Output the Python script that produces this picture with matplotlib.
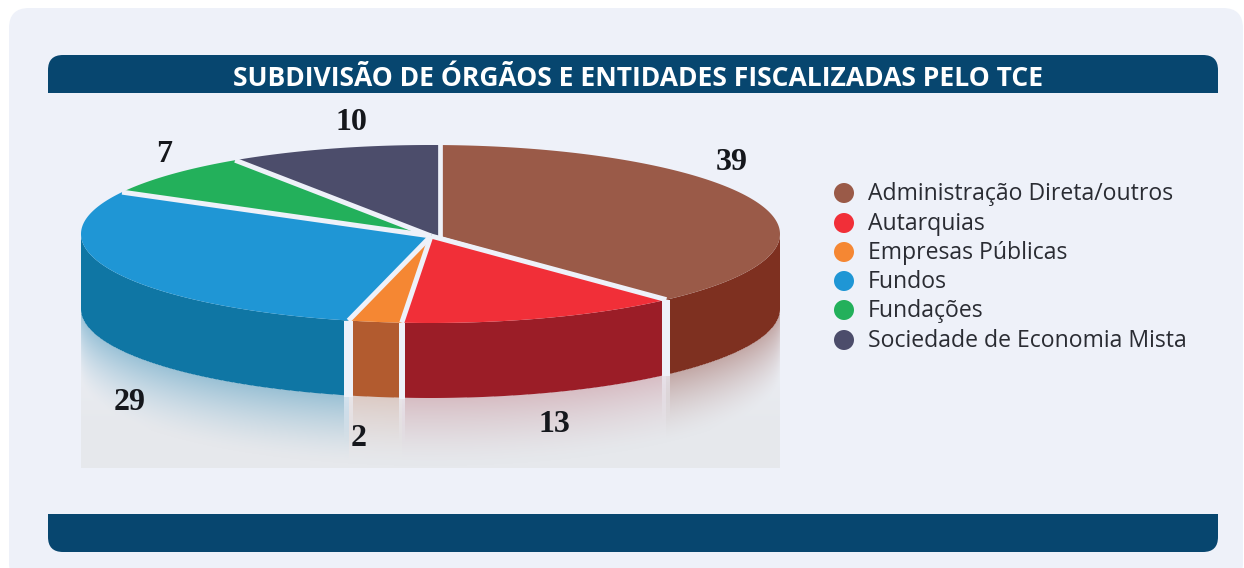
import numpy as np
import matplotlib
matplotlib.use('Agg')
import matplotlib.pyplot as plt
from matplotlib.colors import to_rgb
from matplotlib.patches import FancyBboxPatch, Polygon, Rectangle, Circle

title = 'SUBDIVISÃO DE ÓRGÃOS E ENTIDADES FISCALIZADAS PELO TCE'
categories = ['Administração Direta/outros', 'Autarquias', 'Empresas Públicas',
              'Fundos', 'Fundações', 'Sociedade de Economia Mista']
values = [39, 13, 2, 29, 7, 10]
top_colors = ['#9A5A48', '#F12F38', '#F58733', '#1F96D5', '#23B05B', '#4C4D6B']
wall_colors = ['#7E3020', '#9B1D27', '#B25B2F', '#0F76A4', '#0F76A4', '#4C4D6B']
label_pos = [(732, 163), (554, 424), (359, 438), (130, 403), (164, 155), (351, 123)]
legend_y = [193, 223, 252, 281, 310, 340]

bg = '#EEF1F9'
navy = '#07466F'
cx, cy, rx, ry, depth = 430.5, 234, 349.5, 89, 75
apex = (431, 236)
# the artwork is hand drawn, its spokes sit a little off the true angles (degrees)
nudge = [0, 0.8, 0, -1.6, 1.2, -0.9, 0]
gap_w = {1: 8, 2: 6, 3: 9}

fig = plt.figure(figsize=(12.44, 5.68), dpi=100)
ax = fig.add_axes([0, 0, 1, 1])
ax.set_xlim(0, 1244)
ax.set_ylim(568, 0)
ax.axis('off')


def rim_angle(frac, extra=0):
    # small warp, the drawing has some perspective
    return np.radians(90 - 360 * frac + 0.5 - 2 * np.cos(2 * np.pi * frac) + extra)


def rim(t):
    return cx + rx * np.cos(t), cy - ry * np.sin(t)


def rounded(x, y, w, h, r, color, z=1):
    ax.add_patch(FancyBboxPatch((x + r, y + r), w - 2 * r, h - 2 * r,
                                boxstyle=f'round,pad={r},rounding_size={r}',
                                fc=color, ec='none', zorder=z))


# panel and bars
rounded(9, 8, 1234, 575, 20, bg)
rounded(48, 55, 1170, 60, 15, navy, 2)
ax.add_patch(Rectangle((48, 75), 1170, 18, fc=navy, ec='none', zorder=2))
ax.add_patch(Rectangle((48, 93), 1170, 25, fc=bg, ec='none', zorder=2))
rounded(48, 490, 1170, 62, 15, navy, 2)
ax.add_patch(Rectangle((48, 514), 1170, 18, fc=navy, ec='none', zorder=2))
ax.add_patch(Rectangle((48, 485), 1170, 29, fc=bg, ec='none', zorder=2))
ax.text(638, 79, title, color='white', ha='center', va='center', fontsize=19.1,
        fontweight='bold', family='Open Sans', zorder=3)

# floor gradient and coloured reflection
fracs = np.concatenate([[0], np.cumsum(values) / np.sum(values)])
angles = [rim_angle(f, n) for f, n in zip(fracs, nudge)]
xs, ys = np.meshgrid(np.arange(81, 780) + 0.5, np.arange(280, 468) + 0.5)
bg_rgb = np.array(to_rgb(bg))
floor = np.array(to_rgb('#E6E8EC'))
mix = np.clip((ys - 300) / 130, 0, 1)[..., None]
img = bg_rgb * (1 - mix) + floor * mix

under = cy + depth + ry * np.sqrt(np.clip(1 - ((xs - cx) / rx) ** 2, 0, 1))
dist = ys - under
fade = np.clip(1 - dist / 68, 0, 1) ** 1.5
refl = np.zeros_like(img)
refl[:] = to_rgb(wall_colors[3])
strength = np.full(xs.shape, 0.36)
for i in [0, 1, 2]:
    right = rim(angles[i])[0] if i else 780
    left = rim(angles[i + 1])[0]
    mask = (xs <= right) & (xs > left)
    refl[mask] = to_rgb(wall_colors[i])
    strength[mask] = 0.36 if i == 0 else 0.22
alpha = (strength * fade * (dist >= 0))[..., None]
img = img * (1 - alpha) + refl * alpha
# light strips continue below the gaps
for i in [1, 2, 3]:
    xg = rim(angles[i])[0]
    mask = np.abs(xs - xg) < gap_w[i] / 2
    a = (0.8 * np.clip(1 - (dist + 5) / 50, 0, 1))[..., None]
    img = np.where(mask[..., None], img * (1 - a) + bg_rgb * a, img)
ax.imshow(img, extent=(81, 780, 468, 280), interpolation='bilinear', aspect='auto', zorder=3)
ax.set_xlim(0, 1244)
ax.set_ylim(568, 0)

# side walls
for i in range(4):
    a0, a1 = angles[i], angles[i + 1]
    a0 = min(a0, 0.0)
    a1 = max(a1, -np.pi)
    t = np.linspace(a0, a1, 120)
    px, py = rim(t)
    pts = np.r_[np.c_[px, py], np.c_[px[::-1], py[::-1] + depth]]
    ax.add_patch(Polygon(pts, fc=wall_colors[i], ec='none', zorder=4))

# top slices
top_x, top_y = rim(angles[0])
for i in range(6):
    t = np.linspace(angles[i], angles[i + 1], 200)
    px, py = rim(t)
    pts = np.c_[px, py]
    if i == 0:
        pts = np.r_[[(top_x, apex[1])], pts]
    elif i == 5:
        pts = np.r_[[apex], pts, [(top_x, apex[1])]]
    else:
        pts = np.r_[[apex], pts]
    ax.add_patch(Polygon(pts, fc=top_colors[i], ec='none', zorder=5))

# gaps between slices
for i in [1, 2, 3, 4, 5]:
    ex, ey = rim(angles[i])
    ax.plot([apex[0], ex], [apex[1], ey], color=bg, lw=3.6, solid_capstyle='butt', zorder=6)
ax.plot([top_x, top_x], [apex[1] + 1, top_y - 2], color=bg, lw=3.4, solid_capstyle='butt', zorder=6)
for i in [1, 2, 3]:
    ex, ey = rim(angles[i])
    ax.add_patch(Rectangle((ex - gap_w[i] / 2, ey), gap_w[i], depth + 1, fc=bg, ec='none', zorder=6))

for v, (lx, ly) in zip(values, label_pos):
    ax.text(lx, ly, str(v), ha='center', va='center', fontsize=23, fontweight='bold',
            family='Liberation Serif', color='#15171C', zorder=8)

# legend
for name, color, y in zip(categories, top_colors, legend_y):
    ax.add_patch(Circle((844, y), 10, fc=color, ec='none', zorder=7))
    ax.text(868, y + 1, name, ha='left', va='center', fontsize=16.6, family='Open Sans',
            color='#2A2C33', zorder=7)

fig.savefig('out.png', dpi=100, facecolor='white')
